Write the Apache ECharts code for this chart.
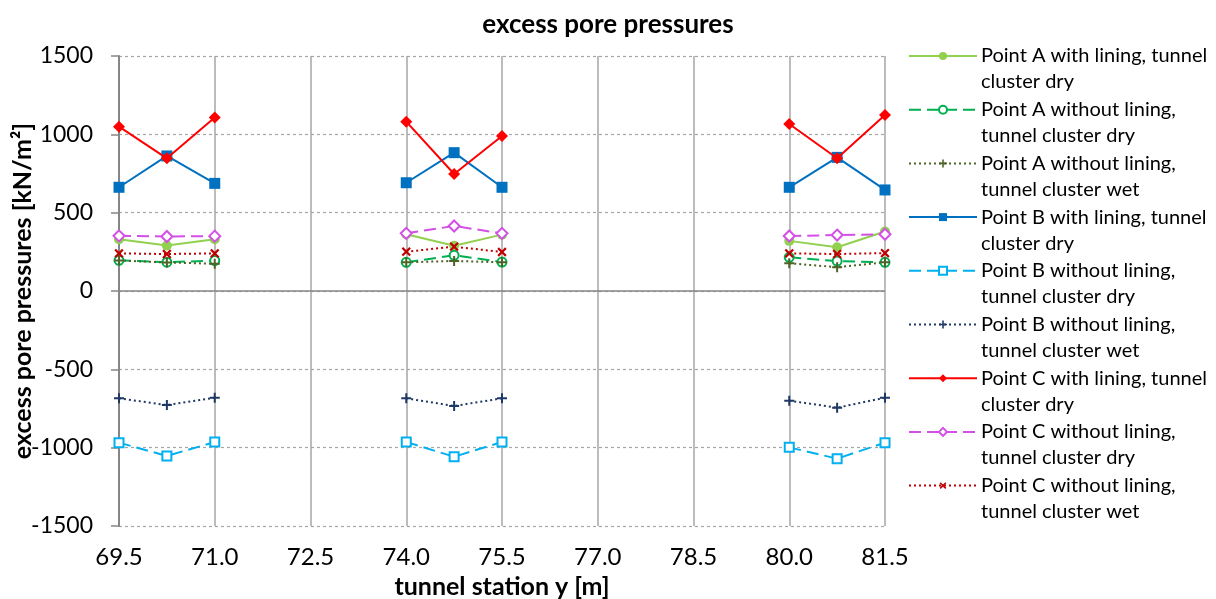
<!DOCTYPE html>
<html>
<head>
<meta charset="utf-8">
<script src="https://cdn.jsdelivr.net/npm/echarts@6/dist/echarts.min.js"></script>
<style>
  html, body { margin: 0; padding: 0; background: #ffffff; }
  #chart { width: 1216px; height: 599px; }
</style>
</head>
<body>
<div id="chart"></div>
<script>
// Tunnel stations [m] (three clusters of three points)
const stations = [69.5, 70.25, 71.0, 74.0, 74.75, 75.5, 80.0, 80.75, 81.5];

// Excess pore pressures [kN/m²] per station
const aLiningDry   = [330, 290, 330, 362, 289, 360, 320, 279, 380];
const aNoLinDry    = [196, 184, 194, 183, 228, 185, 215, 191, 183];
const aNoLinWet    = [195, 182, 174, 183, 192, 183, 177, 152, 183];
const bLiningDry   = [662, 862, 687, 691, 883, 662, 662, 853, 645];
const bNoLinDry    = [-968, -1053, -964, -964, -1058, -964, -998, -1070, -968];
const bNoLinWet    = [-685, -728, -681, -685, -734, -685, -700, -745, -681];
const cLiningDry   = [1049, 847, 1107, 1081, 747, 989, 1066, 847, 1123];
const cNoLinDry    = [352, 348, 350, 368, 415, 368, 351, 357, 362];
const cNoLinWet    = [240, 236, 240, 251, 283, 249, 240, 236, 242];

// Axis ticks
const yTicks = { min: -1500, max: 1500, step: 500 };
const xTicks = { min: 69.5, max: 81.5, step: 1.5 };

const seriesNames = [
  'Point A with lining, tunnel cluster dry',
  'Point A without lining, tunnel cluster dry',
  'Point A without lining, tunnel cluster wet',
  'Point B with lining, tunnel cluster dry',
  'Point B without lining, tunnel cluster dry',
  'Point B without lining, tunnel cluster wet',
  'Point C with lining, tunnel cluster dry',
  'Point C without lining, tunnel cluster dry',
  'Point C without lining, tunnel cluster wet'
];

const FONT = 'Lato, "Open Sans", sans-serif';
const PLUS = 'path://M4,0H6V4H10V6H6V10H4V6H0V4H4Z';

// Pair stations with values; a gap between clusters breaks the line
function pairs(values) {
  const out = [];
  for (let i = 0; i < stations.length; i++) {
    out.push([stations[i], values[i]]);
    if (i === 2 || i === 5) out.push([(stations[i] + stations[i + 1]) / 2, null]);
  }
  return out;
}

function makeSeries(name, values, color, lineType, symbol, size, opts) {
  opts = opts || {};
  return {
    name: name,
    type: 'line',
    data: pairs(values),
    connectNulls: false,
    color: color,
    symbol: symbol,
    symbolSize: size,
    symbolRotate: opts.rotate || 0,
    showAllSymbol: true,
    lineStyle: { color: color, width: opts.width || 2, type: lineType },
    itemStyle: { color: color, borderColor: color, borderWidth: opts.border || 0 },
    emphasis: { disabled: true },
    animation: false,
    z: opts.z || 2
  };
}

const series = [
  makeSeries(seriesNames[0], aLiningDry, '#92D050', 'solid', 'circle', 10),
  makeSeries(seriesNames[1], aNoLinDry, '#00B050', [12, 6], 'emptyCircle', 9, { border: 1.5 }),
  makeSeries(seriesNames[2], aNoLinWet, '#4F6228', [2, 3], PLUS, 10),
  makeSeries(seriesNames[3], bLiningDry, '#0070C0', 'solid', 'rect', 11),
  makeSeries(seriesNames[4], bNoLinDry, '#00B0F0', [12, 6], 'emptyRect', 9, { border: 1.5 }),
  makeSeries(seriesNames[5], bNoLinWet, '#1F3864', [2, 3], PLUS, 10),
  makeSeries(seriesNames[6], cLiningDry, '#FF0000', 'solid', 'diamond', 12, { z: 3 }),
  makeSeries(seriesNames[7], cNoLinDry, '#D34FE6', [12, 6], 'emptyDiamond', 11, { border: 1.5 }),
  makeSeries(seriesNames[8], cNoLinWet, '#C00000', [2, 3], PLUS, 11, { rotate: 45 })
];

// Solid zero line across the plot
series[0].markLine = {
  silent: true,
  symbol: 'none',
  label: { show: false },
  lineStyle: { color: '#868686', width: 1.5, type: 'solid' },
  data: [{ yAxis: 0 }],
  animation: false
};

// Legend entries are wrapped onto two lines
function splitName(name) {
  const wrapped = name.indexOf('without') >= 0
    ? name.replace('lining, ', 'lining,\n')
    : name.replace('tunnel ', 'tunnel\n');
  return wrapped.split('\n');
}

const legendText = { fontFamily: FONT, fontSize: 20, lineHeight: 26, color: '#000' };
const legendCommon = {
  orient: 'vertical',
  left: 908,
  padding: 0,
  itemGap: 27.7,
  itemWidth: 68,
  itemHeight: 10,
  selectedMode: false,
  textStyle: legendText
};
const hiddenIcon = {
  itemStyle: { opacity: 0, color: 'rgba(0,0,0,0)', borderWidth: 0 },
  lineStyle: { opacity: 0 }
};

const chart = echarts.init(document.getElementById('chart'), null, { renderer: 'canvas' });

chart.setOption({
  backgroundColor: '#ffffff',
  animation: false,
  title: {
    text: 'excess pore pressures',
    left: 'center',
    top: 7,
    textStyle: { fontFamily: FONT, fontWeight: 'bold', fontSize: 26, color: '#000' }
  },
  grid: { left: 119, right: 331, top: 56, bottom: 73, containLabel: false, outerBoundsMode: 'none' },
  legend: [
    // Series icons, level with the first text line
    Object.assign({}, legendCommon, {
      top: 43,
      data: seriesNames,
      formatter: function (name) { return splitName(name)[0]; },
      textStyle: Object.assign({}, legendText, { color: 'rgba(0,0,0,0)' })
    }),
    // First line of each entry
    Object.assign({}, legendCommon, hiddenIcon, {
      top: 43,
      data: seriesNames.map(function (n) { return { name: n, icon: 'rect' }; }),
      formatter: function (name) { return splitName(name)[0]; }
    }),
    // Second line of each entry
    Object.assign({}, legendCommon, hiddenIcon, {
      top: 69,
      data: seriesNames.map(function (n) { return { name: n, icon: 'rect' }; }),
      formatter: function (name) { return splitName(name)[1]; }
    })
  ],
  xAxis: {
    type: 'value',
    min: xTicks.min,
    max: xTicks.max,
    interval: xTicks.step,
    name: 'tunnel station y [m]',
    nameLocation: 'middle',
    nameGap: 48,
    nameMoveOverlap: false,
    nameTextStyle: { fontFamily: FONT, fontWeight: 'bold', fontSize: 25, color: '#000' },
    axisLine: { show: false },
    axisTick: { show: false },
    axisLabel: {
      margin: 19,
      fontFamily: FONT,
      fontSize: 24,
      color: '#000',
      formatter: function (v) { return v.toFixed(1); }
    },
    splitLine: { show: true, lineStyle: { color: '#A6A6A6', width: 1.5, type: 'solid' } }
  },
  yAxis: {
    type: 'value',
    min: yTicks.min,
    max: yTicks.max,
    interval: yTicks.step,
    name: 'excess pore pressures [kN/m²]',
    nameLocation: 'middle',
    nameGap: 84,
    nameMoveOverlap: false,
    nameTextStyle: { fontFamily: FONT, fontWeight: 'bold', fontSize: 25, color: '#000' },
    axisLine: { show: true, onZero: false, lineStyle: { color: '#868686', width: 2 } },
    axisTick: { show: true, inside: false, length: 8, lineStyle: { color: '#868686', width: 1.5 } },
    axisLabel: {
      margin: 26,
      fontFamily: FONT,
      fontSize: 23,
      color: '#000',
      formatter: function (v) { return String(v); }
    },
    splitLine: { show: true, lineStyle: { color: '#A6A6A6', width: 1.2, type: [3, 3] } }
  },
  series: series
});
</script>
</body>
</html>
